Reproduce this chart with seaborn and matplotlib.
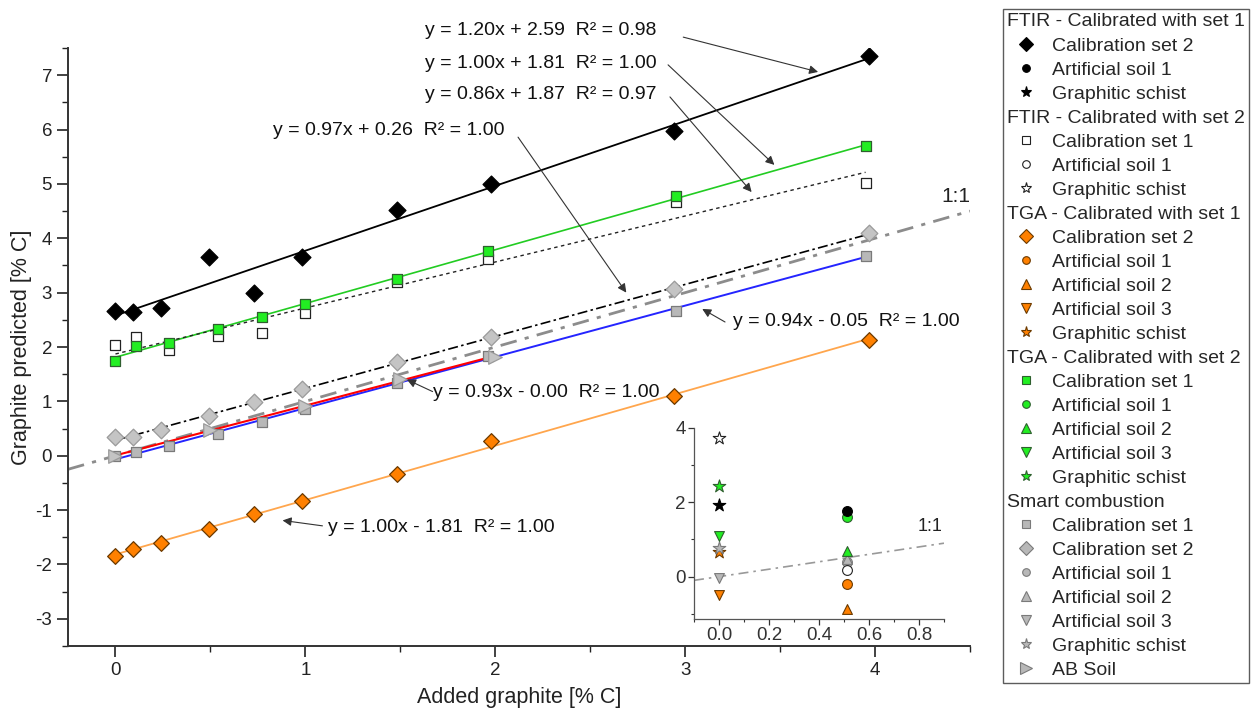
import matplotlib
matplotlib.use("Agg")
import matplotlib.pyplot as plt
from matplotlib.lines import Line2D
from matplotlib.ticker import MultipleLocator, FormatStrFormatter
import seaborn as sns

# added graphite [% C] of the calibration sets
x_cal1 = [0.00, 0.11, 0.28, 0.54, 0.77, 1.00, 1.48, 1.96, 2.95, 3.95]
x_cal2 = [0.00, 0.09, 0.24, 0.49, 0.73, 0.98, 1.48, 1.98, 2.94, 3.97]
x_ab = [0.0, 0.5, 1.0, 1.5, 2.0]

# predicted graphite [% C]
ftir1_cal2 = [2.66, 2.64, 2.71, 3.66, 2.99, 3.66, 4.52, 5.00, 5.98, 7.35]
ftir2_cal1 = [2.04, 2.18, 1.94, 2.21, 2.25, 2.63, 3.20, 3.62, 4.66, 5.02]
tga1_cal2 = [-1.84, -1.71, -1.61, -1.34, -1.07, -0.84, -0.34, 0.28, 1.10, 2.12]
tga2_cal1 = [1.75, 2.02, 2.08, 2.33, 2.55, 2.79, 3.26, 3.77, 4.77, 5.69]
smart_cal1 = [0.00, 0.06, 0.17, 0.40, 0.62, 0.86, 1.34, 1.83, 2.67, 3.68]
smart_cal2 = [0.34, 0.34, 0.48, 0.73, 0.99, 1.23, 1.72, 2.19, 3.06, 4.09]
smart_ab = [0.00, 0.47, 0.91, 1.41, 1.82]

# inset: test samples
samples = ["Artificial soil 1", "Artificial soil 2", "Artificial soil 3", "Graphitic schist"]
sample_x = [0.51, 0.51, 0.0, 0.0]
sample_markers = ["o", "^", "v", "*"]
inset_ftir1 = [1.77, None, None, 1.93]
inset_ftir2 = [0.18, None, None, 3.73]
inset_tga1 = [-0.19, -0.88, -0.50, 0.65]
inset_tga2 = [1.61, 0.69, 1.10, 2.45]
inset_smart = [0.39, 0.47, -0.03, 0.78]

equations = [
    "y = 1.20x + 2.59  R² = 0.98",
    "y = 1.00x + 1.81  R² = 1.00",
    "y = 0.86x + 1.87  R² = 0.97",
    "y = 0.97x + 0.26  R² = 1.00",
    "y = 0.94x - 0.05  R² = 1.00",
    "y = 0.93x - 0.00  R² = 1.00",
    "y = 1.00x - 1.81  R² = 1.00",
]
eq_text_xy = [(1.63, 7.83), (1.63, 7.21), (1.63, 6.64), (0.83, 5.99),
              (3.25, 2.46), (1.67, 1.16), (1.12, -1.32)]
eq_tail = [(2.99, 7.70), (2.91, 7.19), (2.92, 6.60), (2.12, 5.86),
           (3.21, 2.46), (1.67, 1.18), (1.09, -1.29)]
eq_head = [(3.70, 7.06), (3.47, 5.35), (3.35, 4.85), (2.69, 3.00),
           (3.09, 2.70), (1.535, 1.40), (0.88, -1.19)]

BLACK = dict(fc="black", ec="black")
OPEN = dict(fc="white", ec="#222222")
ORANGE = dict(fc="#ff8000", ec="#6b3a00")
GREEN = dict(fc="#22ee22", ec="#2f5f2f")
GRAY = dict(fc="#b8b8b8", ec="#7a7a7a")

sns.set_style("ticks")
plt.rcParams["font.family"] = ["Liberation Sans", "DejaVu Sans"]
plt.rcParams["axes.edgecolor"] = "#333333"
plt.rcParams["axes.unicode_minus"] = False

fig = plt.figure(figsize=(12.54, 7.13), dpi=100)
ax = fig.add_axes([68 / 1254, 1 - 646 / 713, 902 / 1254, 598 / 713])

# 1:1 line
ax.axline((0, 0), slope=1, color="#8c8c8c", lw=2, linestyle=(0, (6, 3, 1.5, 3)), zorder=1)

# regression lines
sns.regplot(x=x_cal2, y=ftir1_cal2, scatter=False, ci=None, ax=ax, color="black",
            line_kws=dict(lw=1.3, zorder=2))
sns.regplot(x=x_cal1, y=tga2_cal1, scatter=False, ci=None, ax=ax, color="#22cc22",
            line_kws=dict(lw=1.2, zorder=2))
sns.regplot(x=x_cal1, y=ftir2_cal1, scatter=False, ci=None, ax=ax, color="#222222",
            line_kws=dict(lw=1.0, linestyle=(0, (2.5, 2.5)), zorder=2))
sns.regplot(x=x_cal2, y=smart_cal2, scatter=False, ci=None, ax=ax, color="black",
            line_kws=dict(lw=1.2, linestyle=(0, (6, 2, 1.5, 2)), zorder=2))
sns.regplot(x=x_cal1, y=smart_cal1, scatter=False, ci=None, ax=ax, color="#2424ff",
            line_kws=dict(lw=1.4, zorder=2))
sns.regplot(x=x_ab, y=smart_ab, scatter=False, ci=None, ax=ax, color="#ff0000",
            line_kws=dict(lw=1.5, zorder=2.5))
sns.regplot(x=x_cal2, y=tga1_cal2, scatter=False, ci=None, ax=ax, color="#ffa64d",
            line_kws=dict(lw=1.3, zorder=2))


def points(axis, x, y, marker, style, s, lw=0.9, z=4):
    sns.scatterplot(x=x, y=y, marker=marker, s=s, color=style["fc"], edgecolor=style["ec"],
                    linewidth=lw, ax=axis, zorder=z, legend=False)


points(ax, x_cal1, ftir2_cal1, "s", OPEN, 56)
points(ax, x_cal1, tga2_cal1, "s", GREEN, 56)
points(ax, x_cal1, smart_cal1, "s", GRAY, 56)
points(ax, x_ab, smart_ab, ">", GRAY | dict(fc="#c4c4c4", ec="#9a9a9a"), 95)
points(ax, x_cal2, smart_cal2, "D", GRAY | dict(fc="#c4c4c4", ec="#9a9a9a"), 72)
points(ax, x_cal2, tga1_cal2, "D", ORANGE, 64)
points(ax, x_cal2, ftir1_cal2, "D", BLACK, 74)

ax.set_xlim(-0.25, 4.5)
ax.set_ylim(-3.5, 7.5)
ax.xaxis.set_major_locator(MultipleLocator(1))
ax.xaxis.set_minor_locator(MultipleLocator(0.5))
ax.yaxis.set_major_locator(MultipleLocator(1))
ax.yaxis.set_minor_locator(MultipleLocator(0.5))
ax.tick_params(which="major", length=8, width=1.2, labelsize=13.5, colors="#222222")
ax.tick_params(which="minor", length=4, width=1.0, colors="#222222")
sns.despine(ax=ax)
for sp in ax.spines.values():
    sp.set_linewidth(1.4)
ax.set_xlabel("Added graphite [% C]", fontsize=15.5, labelpad=6, color="#222222")
ax.set_ylabel("Graphite predicted [% C]", fontsize=15.5, labelpad=2, color="#222222")

for txt, xy, tail, head in zip(equations, eq_text_xy, eq_tail, eq_head):
    ax.text(xy[0], xy[1], txt, fontsize=14, ha="left", va="center", color="#111111", zorder=6)
    ax.annotate("", xy=head, xytext=tail,
                arrowprops=dict(arrowstyle="-|>", color="#333333", lw=0.8,
                                mutation_scale=13, shrinkA=0, shrinkB=0), zorder=6)
ax.text(4.35, 4.76, "1:1", fontsize=15, ha="left", va="center", color="#222222")

# inset
axi = fig.add_axes([694 / 1254, 1 - 619 / 713, 250 / 1254, 191 / 713])
axi.patch.set_alpha(0)
axi.axline((0, 0), slope=1, color="#999999", lw=1.2, linestyle=(0, (6, 3, 1.5, 3)), zorder=1)
inset_sets = [(inset_tga1, ORANGE), (inset_smart, GRAY), (inset_ftir2, OPEN),
              (inset_tga2, GREEN), (inset_ftir1, BLACK)]
for vals, style in inset_sets:
    for xv, yv, mk in zip(sample_x, vals, sample_markers):
        if yv is None:
            continue
        s = 90 if mk == "*" else 50
        points(axi, [xv], [yv], mk, style, s, lw=0.8)
axi.set_xlim(-0.1, 0.9)
axi.set_ylim(-1.14, 4.0)
axi.xaxis.set_major_locator(MultipleLocator(0.2))
axi.xaxis.set_minor_locator(MultipleLocator(0.1))
axi.xaxis.set_major_formatter(FormatStrFormatter("%.1f"))
axi.yaxis.set_major_locator(MultipleLocator(2))
axi.yaxis.set_minor_locator(MultipleLocator(1))
axi.tick_params(which="major", length=4, width=0.9, labelsize=13.5, colors="#333333", pad=2)
axi.tick_params(which="minor", length=2.5, width=0.8, colors="#333333")
sns.despine(ax=axi)
for sp in axi.spines.values():
    sp.set_linewidth(0.9)
    sp.set_color("#555555")
axi.text(0.795, 1.35, "1:1", fontsize=13, ha="left", va="center", color="#222222")

# legend
groups = [
    ("FTIR - Calibrated with set 1", BLACK,
     [("D", "Calibration set 2"), ("o", "Artificial soil 1"), ("*", "Graphitic schist")]),
    ("FTIR - Calibrated with set 2", OPEN,
     [("s", "Calibration set 1"), ("o", "Artificial soil 1"), ("*", "Graphitic schist")]),
    ("TGA - Calibrated with set 1", ORANGE,
     [("D", "Calibration set 2"), ("o", "Artificial soil 1"), ("^", "Artificial soil 2"),
      ("v", "Artificial soil 3"), ("*", "Graphitic schist")]),
    ("TGA - Calibrated with set 2", GREEN,
     [("s", "Calibration set 1"), ("o", "Artificial soil 1"), ("^", "Artificial soil 2"),
      ("v", "Artificial soil 3"), ("*", "Graphitic schist")]),
    ("Smart combustion", GRAY,
     [("s", "Calibration set 1"), ("D", "Calibration set 2"), ("o", "Artificial soil 1"),
      ("^", "Artificial soil 2"), ("v", "Artificial soil 3"), ("*", "Graphitic schist"),
      (">", "AB Soil")]),
]
ms_map = {"D": 7, "o": 5.5, "s": 6, "^": 6.5, "v": 6.5, "*": 8, ">": 8}
handles, labels, headers = [], [], []
for title, style, items in groups:
    handles.append(Line2D([], [], linestyle="none"))
    labels.append(title)
    headers.append(title)
    for mk, lab in items:
        handles.append(Line2D([], [], linestyle="none", marker=mk, markersize=ms_map[mk],
                              markerfacecolor=style["fc"], markeredgecolor=style["ec"],
                              markeredgewidth=0.8))
        labels.append(lab)

leg = fig.legend(handles, labels, loc="upper left", bbox_to_anchor=(1003 / 1254, 1 - 9 / 713),
                 fontsize=14, frameon=True, fancybox=False, borderpad=0.2, borderaxespad=0,
                 labelspacing=0.33, handlelength=2.0, handletextpad=0.3)
leg.get_frame().set_edgecolor("#333333")
leg.get_frame().set_linewidth(1.0)
for hp in leg._legend_handle_box.get_children()[0].get_children():
    box, txt = hp.get_children()
    if txt.get_text() in headers:
        box.width = 0
        hp.sep = 0

fig.savefig("out.png", dpi=100)
